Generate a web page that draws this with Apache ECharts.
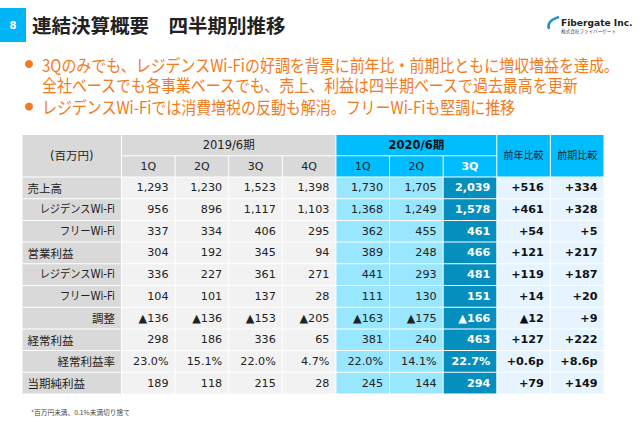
<!DOCTYPE html>
<html>
<head>
<meta charset="utf-8">
<style>html,body{margin:0;padding:0;background:#fff}#chart{width:640px;height:422px}</style>
<script src="https://cdn.jsdelivr.net/npm/echarts@6/dist/echarts.min.js"></script>
</head>
<body>
<div id="chart"></div>
<script>
var FONT = '"DejaVu Sans","Noto Sans CJK JP",sans-serif';
var JP = '"Noto Sans CJK JP",sans-serif';

var titleText = '連結決算概要　四半期別推移';
var bulletLines = [
  '3Qのみでも、レジデンスWi-Fiの好調を背景に前年比・前期比ともに増収増益を達成。',
  '全社ベースでも各事業ベースでも、売上、利益は四半期ベースで過去最高を更新',
  'レジデンスWi-Fiでは消費増税の反動も解消。フリーWi-Fiも堅調に推移'
];
var footnote = '*百万円未満、0.1%未満切り捨て';

var quarters = ['1Q', '2Q', '3Q', '4Q', '1Q', '2Q', '3Q'];
var rowLabels = ['売上高', 'レジデンスWi-Fi', 'フリーWi-Fi', '営業利益', 'レジデンスWi-Fi', 'フリーWi-Fi', '調整', '経常利益', '経常利益率', '当期純利益'];
var subRows = [1, 2, 4, 5, 6, 8];

// 2019/6 1Q-4Q, 2020/6 1Q-3Q, then 前年比較, 前期比較
var sales     = [1293, 1230, 1523, 1398, 1730, 1705, 2039, 516, 334];
var salesRes  = [956, 896, 1117, 1103, 1368, 1249, 1578, 461, 328];
var salesFree = [337, 334, 406, 295, 362, 455, 461, 54, 5];
var opProfit  = [304, 192, 345, 94, 389, 248, 466, 121, 217];
var opRes     = [336, 227, 361, 271, 441, 293, 481, 119, 187];
var opFree    = [104, 101, 137, 28, 111, 130, 151, 14, 20];
var opAdjust  = [-136, -136, -153, -205, -163, -175, -166, -12, 9];
var ordProfit = [298, 186, 336, 65, 381, 240, 463, 127, 222];
var ordMargin = [23.0, 15.1, 22.0, 4.7, 22.0, 14.1, 22.7, 0.6, 8.6];
var netProfit = [189, 118, 215, 28, 245, 144, 294, 79, 149];
var tableRows = [sales, salesRes, salesFree, opProfit, opRes, opFree, opAdjust, ordProfit, ordMargin, netProfit];
var marginRow = 8;

var GREY = '#d9d9d9', LIGHT = '#f2f2f2', SKY = '#00bdff', PALE = '#99e6ff', DEEP = '#058fbf', ICE = '#e6f4ff';
var ORANGE = '#f47b20';
var LABEL_MIN = -1.855, HEAD_MIN = -1.96;

function fmtCell(v, col, row) {
  if (row === marginRow) {
    return col > 6 ? '+' + v.toFixed(1) + 'p' : v.toFixed(1) + '%';
  }
  var s = Math.abs(v).toLocaleString('en-US');
  if (v < 0) return '▲' + s;
  return col > 6 ? '+' + s : s;
}

// every cell: col/row span in table units + look
var cells = [];
function addCell(x0, x1, y0, y1, text, o) {
  cells.push(Object.assign({ value: [x0, y0, x1, y1], text: text }, o));
}
addCell(LABEL_MIN, 0, HEAD_MIN, 0, '(百万円)', { fill: GREY, size: 11.5, color: '#222', align: 'center' });
addCell(0, 4, HEAD_MIN, HEAD_MIN / 2, '2019/6期', { fill: GREY, size: 11.5, color: '#222', align: 'center' });
addCell(4, 7, HEAD_MIN, HEAD_MIN / 2, '2020/6期', { fill: SKY, size: 11.5, color: '#111', align: 'center', bold: true });
addCell(7, 8, HEAD_MIN, 0, '前年比較', { fill: SKY, size: 10, color: '#222', align: 'center' });
addCell(8, 9, HEAD_MIN, 0, '前期比較', { fill: SKY, size: 10, color: '#222', align: 'center' });
quarters.forEach(function (q, i) {
  addCell(i, i + 1, HEAD_MIN / 2, 0, q, {
    fill: i < 4 ? GREY : SKY, size: 11, align: 'center',
    color: i === 6 ? '#fff' : '#222', bold: i === 6
  });
});
rowLabels.forEach(function (name, r) {
  var sub = subRows.indexOf(r) >= 0;
  var kana = name.indexOf('Wi-Fi') >= 0;
  addCell(LABEL_MIN, 0, r, r + 1, name, {
    fill: GREY, size: 11.5, color: '#222', align: sub ? 'right' : 'left',
    font: kana ? FONT : JP, squeeze: kana ? 0.89 : 1
  });
  tableRows[r].forEach(function (v, c) {
    var fill = c < 4 ? LIGHT : c < 6 ? PALE : c === 6 ? DEEP : ICE;
    addCell(c, c + 1, r, r + 1, fmtCell(v, c, r), {
      fill: fill, size: 11.2, align: 'right',
      color: c === 6 ? '#fff' : c > 6 ? '#111' : '#222', bold: c >= 6
    });
  });
});

function renderCell(params, api) {
  var cell = cells[params.dataIndex];
  var a = api.coord([api.value(0), api.value(1)]);
  var b = api.coord([api.value(2), api.value(3)]);
  var x = a[0] + 0.5, y = a[1] + 0.5, w = b[0] - a[0] - 1, h = b[1] - a[1] - 1;
  var tx = cell.align === 'center' ? x + w / 2 : cell.align === 'right' ? x + w - 6 : x + 5;
  return {
    type: 'group',
    children: [
      { type: 'rect', shape: { x: x, y: y, width: w, height: h }, style: { fill: cell.fill } },
      {
        type: 'text', x: tx, y: y + h / 2, scaleX: cell.squeeze || 1,
        style: {
          text: cell.text, fill: cell.color, align: cell.align, verticalAlign: 'middle',
          font: (cell.bold ? 'bold ' : '') + cell.size + 'px ' + (cell.font || FONT)
        }
      }
    ]
  };
}

function bulletText(i, y) {
  return { type: 'text', x: 42, y: y, scaleX: 0.87, style: { text: bulletLines[i], fill: ORANGE, verticalAlign: 'middle', font: '17.2px ' + JP } };
}

var chart = echarts.init(document.getElementById('chart'), null, { renderer: 'svg' });
chart.setOption({
  animation: false,
  grid: { left: 22, right: 36, top: 134.5, bottom: 28 },
  xAxis: { type: 'value', min: LABEL_MIN, max: 9, show: false },
  yAxis: { type: 'value', min: HEAD_MIN, max: 10, inverse: true, show: false },
  series: [{
    type: 'custom', renderItem: renderCell, clip: false, silent: true,
    encode: { x: [0, 2], y: [1, 3] },
    data: cells.map(function (c) { return c.value; })
  }],
  graphic: [
    { type: 'rect', shape: { x: 0, y: 8, width: 26, height: 34 }, style: { fill: '#00b4f5' } },
    { type: 'text', x: 13, y: 25.5, style: { text: '8', fill: '#fff', align: 'center', verticalAlign: 'middle', font: 'bold 10px ' + FONT } },
    { type: 'text', x: 32, y: 24.5, style: { text: titleText, fill: '#222', verticalAlign: 'middle', font: 'bold 19.5px ' + JP } },
    { type: 'circle', shape: { cx: 29, cy: 64, r: 4 }, style: { fill: ORANGE } },
    { type: 'circle', shape: { cx: 29, cy: 106.5, r: 4 }, style: { fill: ORANGE } },
    bulletText(0, 64.5),
    bulletText(1, 85),
    bulletText(2, 106.5),
    { type: 'bezierCurve', shape: { x1: 549, y1: 29, x2: 559, y2: 17, cpx1: 546, cpy1: 21 }, style: { stroke: '#2a8fd0', lineWidth: 2.5, fill: null } },
    { type: 'text', x: 561, y: 23, style: { text: 'Fibergate Inc.', fill: '#222', verticalAlign: 'middle', font: 'bold 9.1px ' + FONT } },
    { type: 'text', x: 561, y: 31, style: { text: '株式会社ファイバーゲート', fill: '#444', verticalAlign: 'middle', font: '4.6px ' + JP } },
    { type: 'text', x: 31, y: 411.5, style: { text: footnote, fill: '#444', verticalAlign: 'middle', font: '6.7px ' + JP } }
  ]
});
</script>
</body>
</html>
